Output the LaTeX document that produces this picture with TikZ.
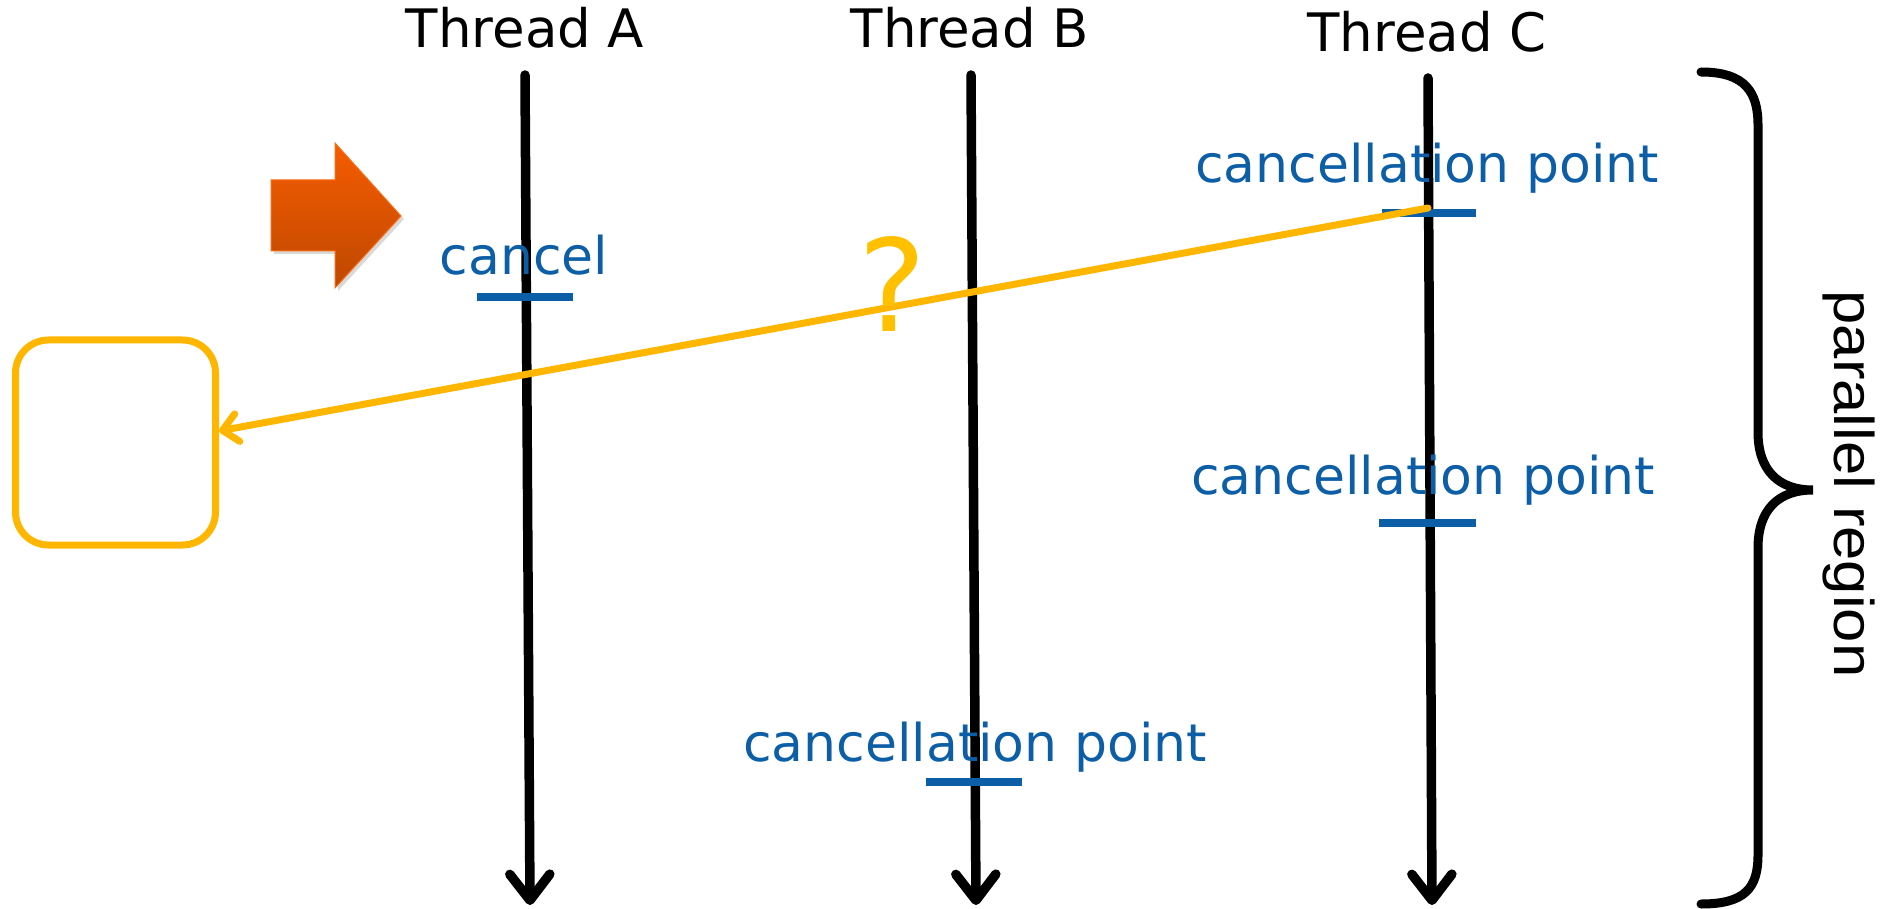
\documentclass[tikz,border=0pt]{standalone}
\usepackage{fontspec}
\setmainfont{DejaVu Sans}
\newfontfamily\bracefont{Liberation Sans}
\usetikzlibrary{arrows.meta,shadows}
\definecolor{cpblue}{RGB}{12,94,166}
\definecolor{gold}{RGB}{255,182,0}
\definecolor{qgold}{RGB}{255,192,0}
\definecolor{orangetop}{RGB}{246,92,0}
\definecolor{orangebot}{RGB}{190,72,0}
\definecolor{orangeedge}{RGB}{250,110,20}

\begin{document}
\begin{tikzpicture}[x=1pt,y=-1pt,
  title/.style={font=\fontsize{53}{60}\selectfont, anchor=base, inner sep=0pt},
  cplabel/.style={font=\fontsize{52}{60}\selectfont, text=cpblue, anchor=base, inner sep=0pt},
  timeline/.style={line width=9.5pt, line cap=round,
    -{Straight Barb[length=26pt,width=40pt,line cap=round,line join=round]}},
  tickmark/.style={draw=cpblue, line width=8.5pt},
  signal/.style={draw=gold, line width=7pt, line cap=round,
    -{Straight Barb[length=15pt,width=28pt,line cap=round,line join=round]}},
  handler/.style={draw=gold, line width=7pt, rounded corners=33pt,
    minimum width=200pt, minimum height=205pt, inner sep=0pt},
  bracestroke/.style={line width=9pt, line cap=round}
]
\useasboundingbox (0,0) rectangle (1885,909);

% thread headings
\node[title] (tA) at (525,48) {Thread A};
\node[title] (tB) at (970,48) {Thread B};
\node[title] (tC) at (1427,52) {Thread C};

% thread time lines
\coordinate (aTop) at (525,75);  \coordinate (aEnd) at (530,905);
\coordinate (bTop) at (971,75);  \coordinate (bEnd) at (976,905);
\coordinate (cTop) at (1428,78); \coordinate (cEnd) at (1432,905);
\draw[timeline] (aTop) -- (aEnd);
\draw[timeline] (bTop) -- (bEnd);
\draw[timeline] (cTop) -- (cEnd);

% cancel request on thread A
\node[cplabel] (cancel) at (524,275) {cancel};
\coordinate (cancelL) at (477,297); \coordinate (cancelR) at (573,297);
\draw[tickmark] (cancelL) -- (cancelR);

% cancellation points
\node[cplabel] (cpC1) at (1427,183) {cancellation point};
\coordinate (cpC1L) at (1382,213); \coordinate (cpC1R) at (1476,213);
\draw[tickmark] (cpC1L) -- (cpC1R);

\node[cplabel] (cpC2) at (1423,494) {cancellation point};
\coordinate (cpC2L) at (1379,523); \coordinate (cpC2R) at (1476,523);
\draw[tickmark] (cpC2L) -- (cpC2R);

\node[cplabel] (cpB) at (975,761) {cancellation point};
\coordinate (cpBL) at (926,782); \coordinate (cpBR) at (1022,782);
\draw[tickmark] (cpBL) -- (cpBR);

% orange block arrow
\path[drop shadow={opacity=0.3, shadow xshift=3pt, shadow yshift=-3pt},
      top color=orangetop, bottom color=orangebot, draw=orangeedge, line width=1pt]
  (271,180) -- (335,180) -- (335,143) -- (401,216) -- (335,288) -- (335,251) -- (271,251) -- cycle;

% empty handler box and the signal that reaches it
\node[handler] (box) at (115.5,442.5) {};
\coordinate (sigStart) at (1428,208);
\coordinate (sigEnd) at (219,431);
\draw[signal] (sigStart) -- (sigEnd);

% question mark
\node[font=\fontsize{128}{140}\selectfont, text=qgold, anchor=base, inner sep=0pt] (q) at (892,331) {?};

% brace spanning the parallel region
\coordinate (brTop) at (1701,72);
\coordinate (brMid) at (1813,490);
\coordinate (brBot) at (1701,904);
\draw[bracestroke] (brTop) .. controls (1745,72) and (1758,92) .. (1758,125)
  -- (1758,432) .. controls (1758,470) and (1778,490) .. (brMid)
  .. controls (1778,490) and (1758,510) .. (1758,548)
  -- (1758,855) .. controls (1758,888) and (1745,904) .. (brBot);
\node[font=\bracefont\fontsize{56}{60}\selectfont, rotate=-90, anchor=base, inner sep=0pt] (par) at (1834,484) {\scalebox{1.1}[1]{parallel region}};
\end{tikzpicture}
\end{document}
